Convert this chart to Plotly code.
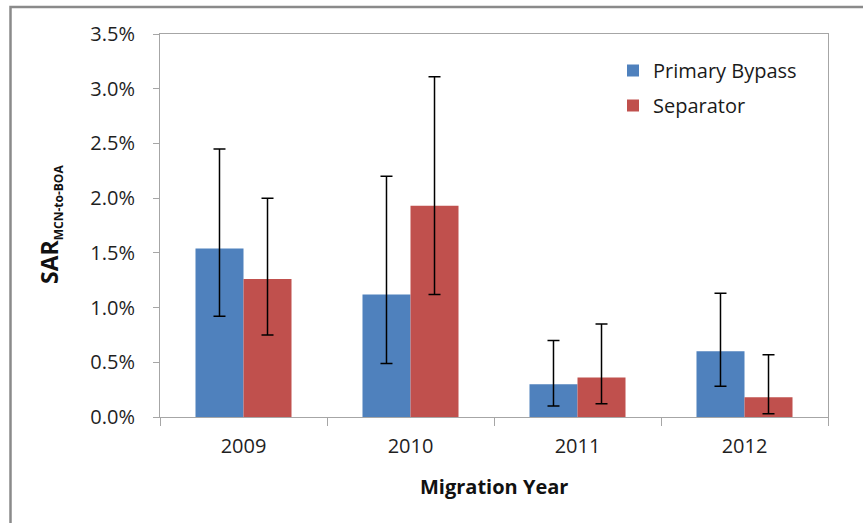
import plotly.graph_objects as go

# Smolt-to-adult return rates by migration year and collection route
years = ["2009", "2010", "2011", "2012"]

bypass_sar = [0.0154, 0.0112, 0.0030, 0.0060]
bypass_upper = [0.0245, 0.0220, 0.0070, 0.0113]
bypass_lower = [0.0092, 0.0049, 0.0010, 0.0028]

separator_sar = [0.0126, 0.0193, 0.0036, 0.0018]
separator_upper = [0.0200, 0.0311, 0.0085, 0.0057]
separator_lower = [0.0075, 0.0112, 0.0012, 0.0003]

y_ticks = [0.0, 0.005, 0.010, 0.015, 0.020, 0.025, 0.030, 0.035]

FONT = "Open Sans"
W, H = 863, 523
L, R, T, B = 160, 35, 34, 106


def err(vals, hi, lo):
    return dict(
        type="data",
        symmetric=False,
        array=[h - v for v, h in zip(vals, hi)],
        arrayminus=[v - l for v, l in zip(vals, lo)],
        color="black",
        thickness=1.5,
        width=6,
    )


fig = go.Figure()
fig.add_trace(go.Bar(
    name="Primary Bypass", x=years, y=bypass_sar,
    marker=dict(color="#4F81BD", line=dict(width=0)),
    error_y=err(bypass_sar, bypass_upper, bypass_lower),
    legendgroup="a",
))
fig.add_trace(go.Bar(
    name="Separator", x=years, y=separator_sar,
    marker=dict(color="#C0504D", line=dict(width=0)),
    error_y=err(separator_sar, separator_upper, separator_lower),
    legendgroup="b",
))

ph = H - T - B
pw = W - L - R


def px_x(p):
    return (p - L) / pw


def px_y(p):
    return (H - B - p) / ph


fig.update_layout(
    width=W, height=H,
    margin=dict(l=L, r=R, t=T, b=B),
    paper_bgcolor="white", plot_bgcolor="white",
    barmode="group", bargap=0.425, bargroupgap=0,
    font=dict(family=FONT, size=20, color="#1f1f1f"),
    showlegend=True,
    legend=dict(
        x=px_x(613), y=px_y(51), xanchor="left", yanchor="top",
        bgcolor="rgba(0,0,0,0)", font=dict(family=FONT, size=20, color="#1a1a1a"),
        traceorder="grouped", tracegroupgap=6, itemwidth=30,
    ),
    xaxis=dict(
        showline=True, linecolor="#a6a6a6", linewidth=1, mirror=True,
        ticks="outside", ticklen=8, tickcolor="#a6a6a6", tickson="boundaries",
        tickfont=dict(family=FONT, size=20, color="#1f1f1f"),
        ticklabelstandoff=11,
        showgrid=False, zeroline=False,
    ),
    yaxis=dict(
        range=[0, 0.035], tickvals=y_ticks, tickformat=".1%",
        showline=True, linecolor="#a6a6a6", linewidth=1, mirror=True,
        ticks="outside", ticklen=6, tickcolor="#a6a6a6",
        tickfont=dict(family=FONT, size=20, color="#1f1f1f"),
        ticklabelstandoff=14,
        showgrid=False, zeroline=False,
    ),
)

# axis titles
fig.add_annotation(
    text="<b>Migration Year</b>", xref="paper", yref="paper",
    x=0.5, y=px_y(486), xanchor="center", yanchor="middle",
    showarrow=False, font=dict(family=FONT, size=20, color="#111111"),
)
fig.add_annotation(
    text="<b>SAR<sub><span style='font-size:12px'>MCN-to-BOA</span></sub></b>",
    xref="paper", yref="paper",
    x=px_x(50), y=px_y(225), xanchor="center", yanchor="middle", textangle=-90,
    showarrow=False, font=dict(family=FONT, size=23, color="#111111"),
)

# chart frame
fig.add_shape(
    type="rect", xref="paper", yref="paper",
    x0=px_x(10.5), x1=px_x(W + 20), y0=px_y(H + 20), y1=px_y(7),
    line=dict(color="#8a8a8a", width=2.5), fillcolor="rgba(0,0,0,0)", layer="below",
)

fig.write_html("out.html")
